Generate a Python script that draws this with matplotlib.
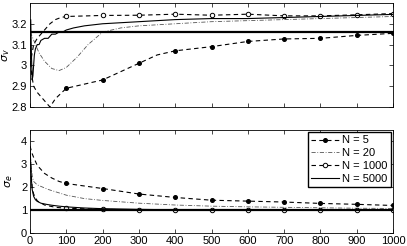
import numpy as np
import matplotlib
matplotlib.use('Agg')
import matplotlib.pyplot as plt

plt.rcParams['font.family'] = ['Liberation Sans', 'DejaVu Sans']
plt.rcParams['font.size'] = 8

# top panel: sigma_v
xv5 = [0, 5, 10, 20, 30, 45, 55, 70, 100, 150, 200, 250, 300, 350, 400, 450, 500, 600, 700, 800, 900, 1000]
v5 = [3.05, 2.95, 2.9, 2.87, 2.85, 2.82, 2.80, 2.84, 2.89, 2.91, 2.93, 2.97, 3.01, 3.05, 3.07, 3.08, 3.09, 3.115, 3.127, 3.13, 3.144, 3.154]
xv20 = [0, 3, 8, 15, 25, 40, 60, 80, 100, 130, 160, 200, 250, 300, 400, 500, 600, 700, 800, 900, 1000]
v20 = [3.2, 3.15, 3.13, 3.1, 3.06, 3.02, 2.985, 2.975, 2.99, 3.04, 3.1, 3.16, 3.18, 3.19, 3.2, 3.21, 3.215, 3.22, 3.225, 3.23, 3.235]
xv1000 = [0, 5, 10, 20, 30, 40, 55, 70, 85, 100, 200, 300, 400, 500, 600, 700, 800, 900, 1000]
v1000 = [3.0, 3.05, 3.1, 3.13, 3.15, 3.17, 3.2, 3.22, 3.23, 3.235, 3.24, 3.241, 3.246, 3.241, 3.246, 3.238, 3.238, 3.243, 3.249]
xv5000 = [0, 2, 4, 6, 8, 10, 12, 15, 20, 25, 30, 40, 50, 60, 70, 80, 90, 100, 120, 150,
          200, 250, 300, 350, 400, 500, 600, 700, 800, 900, 1000]
v5000 = [3.0, 3.22, 3.05, 2.93, 2.95, 3.0, 3.05, 3.08, 3.1, 3.1, 3.12, 3.13, 3.13, 3.15, 3.15, 3.16, 3.16, 3.17, 3.18, 3.19,
         3.2, 3.205, 3.21, 3.215, 3.22, 3.225, 3.225, 3.23, 3.235, 3.24, 3.245]
v_true = np.sqrt(10)

# bottom panel: sigma_e
xe5 = [0, 5, 10, 20, 40, 60, 80, 100, 200, 300, 400, 500, 600, 700, 800, 900, 1000]
e5 = [3.8, 3.5, 3.3, 2.95, 2.6, 2.4, 2.25, 2.16, 1.94, 1.70, 1.55, 1.43, 1.39, 1.35, 1.29, 1.25, 1.20]
xe20 = [0, 3, 6, 10, 20, 50, 100, 150, 200, 300, 400, 500, 600, 700, 800, 900, 1000]
e20 = [3.7, 3.0, 2.5, 2.25, 2.1, 1.9, 1.65, 1.5, 1.42, 1.3, 1.22, 1.17, 1.14, 1.12, 1.1, 1.08, 1.07]
xe1000 = [0, 3, 6, 10, 20, 40, 70, 100, 200, 300, 400, 500, 600, 700, 800, 900, 1000]
e1000 = [3.5, 2.6, 2.0, 1.7, 1.4, 1.22, 1.12, 1.08, 1.03, 1.01, 1.0, 1.0, 1.0, 1.0, 1.0, 1.0, 0.99]
xe5000 = [0, 2, 4, 6, 10, 15, 20, 30, 45, 60, 80, 100, 150, 200, 300, 400, 500, 700, 1000]
e5000 = [3.6, 3.0, 2.3, 1.9, 1.6, 1.45, 1.38, 1.3, 1.25, 1.21, 1.17, 1.14, 1.09, 1.06, 1.03, 1.01, 1.0, 1.0, 1.0]
e_true = 1.0

labels = ['N = 5', 'N = 20', 'N = 1000', 'N = 5000']


def marks(xs):
    return [i for i, x in enumerate(xs) if x > 0 and x % 100 == 0]


def style_axes(ax):
    ax.tick_params(direction='in', top=True, right=True, length=3, width=0.5, pad=2)
    for s in ax.spines.values():
        s.set_linewidth(0.6)
    ax.set_xlim(0, 1000)
    ax.set_xticks(range(0, 1001, 100))


fig = plt.figure(figsize=(4.07, 2.46), dpi=100)
ax1 = fig.add_axes([0.0737, 0.565, 0.892, 0.423])
ax2 = fig.add_axes([0.0737, 0.053, 0.892, 0.419])

for ax, data, truth in [
    (ax1, [(xv5, v5), (xv20, v20), (xv1000, v1000), (xv5000, v5000)], v_true),
    (ax2, [(xe5, e5), (xe20, e20), (xe1000, e1000), (xe5000, e5000)], e_true),
]:
    (x5, y5), (x20, y20), (x1k, y1k), (x5k, y5k) = data
    ax.plot(x5, y5, color='k', ls=(0, (4, 3)), lw=0.8, marker='o', ms=2.6,
            markevery=marks(x5), label=labels[0])
    ax.plot(x20, y20, color='#555555', ls=(0, (5, 2, 1, 2)), lw=0.6, label=labels[1])
    ax.plot(x1k, y1k, color='k', ls=(0, (4, 3)), lw=0.8, marker='o', ms=3.2, mfc='white',
            mec='k', mew=0.7, markevery=marks(x1k), label=labels[2])
    ax.plot(x5k, y5k, color='k', ls='-', lw=0.8, label=labels[3])
    ax.axhline(truth, color='k', lw=1.6)
    style_axes(ax)

ax1.set_ylim(2.8, 3.3)
ax1.set_yticks([2.8, 2.9, 3.0, 3.1, 3.2])
ax1.set_yticklabels(['2.8', '2.9', '3', '3.1', '3.2'])
ax1.set_xticklabels([])
ax1.set_ylabel(r'$\sigma_v$', labelpad=0)

ax2.set_ylim(0, 4.5)
ax2.set_yticks([0, 1, 2, 3, 4])
ax2.set_ylabel(r'$\sigma_e$', labelpad=4)
ax2.legend(loc='upper right', fancybox=False, framealpha=1, edgecolor='k',
           handlelength=2.5, handletextpad=0.3, borderpad=0.3, labelspacing=0.25,
           borderaxespad=0.2, fontsize=8)

fig.savefig('out.png', dpi=100)
